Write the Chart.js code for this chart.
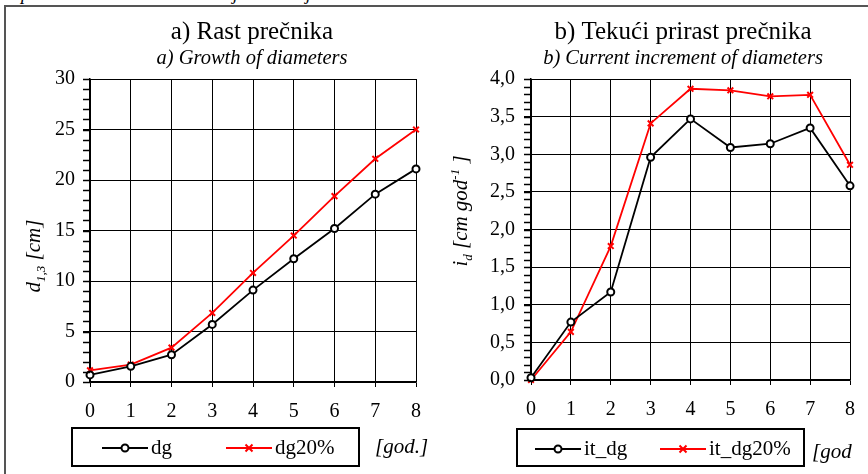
<!DOCTYPE html>
<html>
<head>
<meta charset="utf-8">
<script src="https://cdn.jsdelivr.net/npm/chart.js@4.4.0/dist/chart.umd.min.js"></script>
<style>
  body { margin: 0; background: #fff; width: 868px; height: 474px; overflow: hidden; position: relative; font-family: 'Liberation Serif', serif; }
  #frame { position: absolute; left: 4px; top: 5px; width: 900px; height: 500px; border-top: 2px solid #555; border-left: 2px solid #555; }
  .cap { position: absolute; top: -15px; font-style: italic; font-size: 18px; line-height: 18px; color: #000; }
  .box { position: absolute; top: 0; width: 434px; height: 474px; }
</style>
</head>
<body>
<div id="frame"></div>
<span class="cap" style="left:21px">p</span>
<span class="cap" style="left:233px">j</span>
<span class="cap" style="left:306px">j</span>
<div class="box" style="left:0"><canvas id="chartA" width="434" height="474"></canvas></div>
<div class="box" style="left:434px"><canvas id="chartB" width="434" height="474"></canvas></div>
<script>
'use strict'
// podaci (ocitano sa slike)
const years = [0, 1, 2, 3, 4, 5, 6, 7, 8]
const dg = [0.7, 1.55, 2.7, 5.7, 9.1, 12.2, 15.2, 18.6, 21.1]
const dg20 = [1.16, 1.72, 3.4, 6.84, 10.8, 14.5, 18.4, 22.1, 25.0]
const itDg = [0.03, 0.77, 1.17, 2.96, 3.47, 3.09, 3.14, 3.35, 2.58]
const itDg20 = [0, 0.64, 1.78, 3.41, 3.87, 3.85, 3.77, 3.79, 2.86]

const FONT = "'Liberation Serif'"
Chart.defaults.font.family = FONT
Chart.defaults.color = '#000'

const toPoints = (arr) => years.map((x, i) => ({ x: x, y: arr[i] }))

function drawMarker(ctx, style, x, y, color) {
  ctx.save()
  ctx.strokeStyle = color
  ctx.lineWidth = 2
  if (style === 'circle') {
    ctx.fillStyle = '#fff'
    ctx.beginPath()
    ctx.arc(x, y, 3.5, 0, Math.PI * 2)
    ctx.fill()
    ctx.stroke()
  } else {
    ctx.beginPath()
    ctx.moveTo(x - 3.5, y - 3.5); ctx.lineTo(x + 3.5, y + 3.5)
    ctx.moveTo(x + 3.5, y - 3.5); ctx.lineTo(x - 3.5, y + 3.5)
    ctx.stroke()
  }
  ctx.restore()
}

// naslovi, sporedne podele, oznaka y ose i legenda
const decor = {
  id: 'decor',
  afterDraw(chart, args, o) {
    const ctx = chart.ctx
    const a = chart.chartArea
    ctx.save()
    ctx.fillStyle = '#000'
    ctx.textAlign = 'center'
    ctx.textBaseline = 'alphabetic'
    ctx.font = `25px ${FONT}`
    ctx.fillText(o.title, o.titleX, 39)
    ctx.font = `italic 20.5px ${FONT}`
    ctx.fillText(o.subtitle, o.titleX, 64)

    // sporedne podele na y osi
    const y = chart.scales.y
    ctx.strokeStyle = '#000'
    ctx.lineWidth = 1.5
    const n = Math.round((y.max - y.min) / o.minorStep)
    for (let i = 0; i <= n; i++) {
      const p = Math.round(y.getPixelForValue(y.min + i * o.minorStep)) + 0.5
      ctx.beginPath()
      ctx.moveTo(a.left - 7, p)
      ctx.lineTo(a.left, p)
      ctx.stroke()
    }

    // oznaka y ose
    ctx.save()
    ctx.translate(o.yLabelX, o.yLabelY)
    ctx.rotate(-Math.PI / 2)
    ctx.textAlign = 'left'
    const fontFor = (p) => (p.sub || p.sup) ? `italic 13px ${FONT}` : `italic 21px ${FONT}`
    let w = 0
    o.yLabel.forEach((p) => { ctx.font = fontFor(p); w += ctx.measureText(p.t).width })
    let x = -w / 2
    o.yLabel.forEach((p) => {
      ctx.font = fontFor(p)
      const dy = p.sub ? 5 : p.sup ? -8 : 0
      ctx.fillText(p.t, x, dy)
      x += ctx.measureText(p.t).width
    })
    ctx.restore()

    // legenda
    const lg = o.legend
    ctx.lineWidth = 2
    ctx.strokeStyle = '#000'
    ctx.strokeRect(lg.box[0], lg.box[1], lg.box[2], lg.box[3])
    ctx.textAlign = 'left'
    ctx.textBaseline = 'middle'
    ctx.font = `21px ${FONT}`
    chart.data.datasets.forEach((ds, i) => {
      const x0 = lg.items[i]
      ctx.strokeStyle = ds.borderColor
      ctx.lineWidth = 2
      ctx.beginPath()
      ctx.moveTo(x0, lg.cy)
      ctx.lineTo(x0 + 46, lg.cy)
      ctx.stroke()
      drawMarker(ctx, ds.pointStyle, x0 + 23, lg.cy, ds.borderColor)
      ctx.fillStyle = '#000'
      ctx.fillText(ds.label, x0 + 49, lg.cy)
    })
    ctx.font = `italic 21px ${FONT}`
    ctx.fillText(o.unit, o.unitX, o.unitY)
    ctx.restore()
  }
}

function makeChart(id, sets, cfg) {
  const ctx = document.getElementById(id).getContext('2d')
  return new Chart(ctx, {
    type: 'line',
    data: {
      datasets: sets.map((s) => ({
        label: s.label,
        data: toPoints(s.values),
        borderColor: s.color,
        borderWidth: 1.8,
        pointStyle: s.marker,
        pointRadius: s.marker === 'circle' ? 3.5 : 4,
        pointBorderWidth: 2,
        pointBackgroundColor: s.marker === 'circle' ? '#fff' : s.color,
        pointBorderColor: s.color,
        tension: 0,
        clip: false,
      })),
    },
    options: {
      responsive: false,
      animation: false,
      events: [],
      layout: { padding: { top: cfg.top, right: cfg.right, bottom: cfg.bottom, left: 0 } },
      plugins: {
        legend: { display: false },
        tooltip: { enabled: false },
        decor: cfg.decor,
      },
      scales: {
        x: {
          type: 'linear',
          min: 0,
          max: 8,
          ticks: { stepSize: 1, padding: 13, font: { size: 20 }, color: '#000' },
          grid: { color: '#000', lineWidth: 1, tickLength: 5 },
          border: { color: '#000', width: 1.5 },
          afterFit(s) { s.height = cfg.xHeight },
        },
        y: {
          min: 0,
          max: cfg.yMax,
          ticks: {
            stepSize: cfg.yStep,
            padding: cfg.yPad,
            font: { size: 20 },
            color: '#000',
            callback: cfg.yFormat,
          },
          grid: { color: '#000', lineWidth: 1, tickLength: 7 },
          border: { color: '#000', width: 1.5 },
          afterFit(s) { s.width = cfg.yWidth },
        },
      },
    },
    plugins: [decor],
  })
}

makeChart('chartA', [
  { label: 'dg', values: dg, color: '#000000', marker: 'circle' },
  { label: 'dg20%', values: dg20, color: '#ff0000', marker: 'crossRot' },
], {
  top: 79, right: 18, bottom: 52, xHeight: 40,
  yMax: 30, yStep: 5, yPad: 8, yWidth: 90,
  yFormat: (v) => v,
  decor: {
    title: 'a) Rast prečnika',
    subtitle: 'a) Growth of diameters',
    titleX: 252,
    minorStep: 1,
    yLabel: [{ t: 'd' }, { t: '1,3', sub: true }, { t: ' [cm]' }],
    yLabelX: 40, yLabelY: 256,
    legend: { box: [72, 428, 287, 38], items: [102, 226], cy: 448 },
    unit: '[god.]', unitX: 375, unitY: 447,
  },
})

makeChart('chartB', [
  { label: 'it_dg', values: itDg, color: '#000000', marker: 'circle' },
  { label: 'it_dg20%', values: itDg20, color: '#ff0000', marker: 'crossRot' },
], {
  top: 79, right: 17, bottom: 52, xHeight: 42,
  yMax: 4, yStep: 0.5, yPad: 9, yWidth: 97,
  yFormat: (v) => v.toFixed(1).replace('.', ','),
  decor: {
    title: 'b) Tekući prirast prečnika',
    subtitle: 'b) Current increment of diameters',
    titleX: 249,
    minorStep: 0.1,
    yLabel: [{ t: 'i' }, { t: 'd', sub: true }, { t: ' [cm god' }, { t: '-1', sup: true }, { t: ' ]' }],
    yLabelX: 33, yLabelY: 211,
    legend: { box: [83, 429, 287, 37], items: [101, 226], cy: 449 },
    unit: '[god', unitX: 378, unitY: 452,
  },
})
</script>
</body>
</html>
